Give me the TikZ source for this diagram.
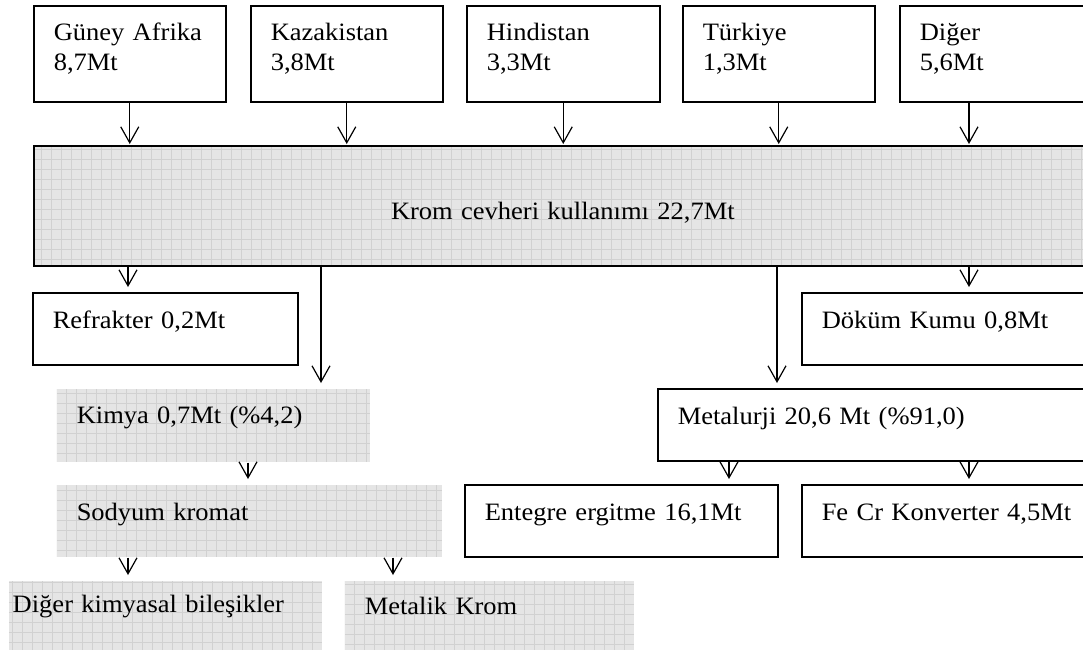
\documentclass[tikz,border=0pt]{standalone}
\usepackage{fontspec}
\setmainfont{Liberation Serif}[FakeStretch=1.06]
\usetikzlibrary{arrows.meta}

\begin{document}
\begin{tikzpicture}[x=0.5pt,y=-0.5pt,font=\fontsize{12.5}{15}\selectfont]
  \tikzstyle{boxw}=[rectangle,draw,line width=0.75pt,anchor=north west,inner xsep=10pt,inner ysep=0pt,align=left]
  \tikzstyle{boxg}=[boxw,draw=none,fill=black!10,path picture={\draw[black!18,line width=0.4pt,step=5pt] (path picture bounding box.south west) grid (path picture bounding box.north east);}]
  \tikzstyle{arr}=[-{Straight Barb[length=8pt,width=9pt]},line width=0.6pt,shorten >=2.5pt]
  \useasboundingbox (0,0) rectangle (1083,649);
  % sources
  \node[boxw,text width=76pt,text height=17.5pt,text depth=30.5pt] (ga) at (33,5) {Güney Afrika\\8,7Mt};
  \node[boxw,text width=76pt,text height=17.5pt,text depth=30.5pt] (kz) at (250,5) {Kazakistan\\3,8Mt};
  \node[boxw,text width=76.5pt,text height=17.5pt,text depth=30.5pt] (hi) at (466,5) {Hindistan\\3,3Mt};
  \node[boxw,text width=76pt,text height=17.5pt,text depth=30.5pt] (tr) at (682,5) {Türkiye\\1,3Mt};
  \node[boxw,text width=90pt,text height=17.5pt,text depth=30.5pt] (dg) at (899,5) {Diğer\\5,6Mt};
  % total
  \node[boxg,draw,line width=1pt,inner xsep=178.5pt,text width=200pt,text height=36.5pt,text depth=23.5pt] (krom) at (33,145) {Krom cevheri kullanımı 22,7Mt};
  % uses
  \node[boxw,text width=112.5pt,text height=18pt,text depth=18pt] (ref) at (32,292) {Refrakter 0,2Mt};
  \node[boxw,text width=150pt,text height=18pt,text depth=18pt] (dok) at (801,292) {Döküm Kumu 0,8Mt};
  \node[boxg,text width=136.5pt,text height=17.5pt,text depth=19pt] (kim) at (56,388) {Kimya 0,7Mt (\%4,2)};
  \node[boxw,text width=220pt,text height=18pt,text depth=18pt] (met) at (657,388) {Metalurji 20,6 Mt (\%91,0)};
  \node[boxg,text width=172.5pt,text height=18pt,text depth=18pt] (sod) at (56,484) {Sodyum kromat};
  \node[boxw,text width=136.5pt,text height=18pt,text depth=18pt] (ent) at (464,484) {Entegre ergitme 16,1Mt};
  \node[boxw,text width=150pt,text height=18pt,text depth=18pt] (fecr) at (801,484) {Fe Cr Konverter 4,5Mt};
  \node[boxg,inner xsep=2pt,text width=152.5pt,text height=16pt,text depth=24pt] (dkb) at (8,580) {Diğer kimyasal bileşikler};
  \node[boxg,text width=124.5pt,text height=17pt,text depth=23pt] (mk) at (344,580) {Metalik Krom};
  % arrow columns
  \coordinate (xd) at (969,0);
  \coordinate (xr) at (128,0);
  \coordinate (xk) at (321,0);
  \coordinate (xm) at (777,0);
  \coordinate (xs) at (248,0);
  \coordinate (xb) at (393,0);
  \coordinate (xe) at (729,0);
  \foreach \n in {ga,kz,hi,tr}
    \draw[arr,shorten >=0.5pt] (\n) -- (\n |- krom.north);
  \draw[arr,shorten >=0.5pt] (dg.south -| xd) -- (xd |- krom.north);
  \draw[arr] (krom.south -| xr) -- (xr |- ref.north);
  \draw[arr] (krom.south -| xk) -- (xk |- kim.north);
  \draw[arr] (krom.south -| xm) -- (xm |- met.north);
  \draw[arr] (krom.south -| xd) -- (xd |- dok.north);
  \draw[arr] (kim.south -| xs) -- (xs |- sod.north);
  \draw[arr] (sod.south -| xr) -- (xr |- dkb.north);
  \draw[arr] (sod.south -| xb) -- (xb |- mk.north);
  \draw[arr] (met.south -| xe) -- (xe |- ent.north);
  \draw[arr] (met.south -| xd) -- (xd |- fecr.north);
\end{tikzpicture}
\end{document}
